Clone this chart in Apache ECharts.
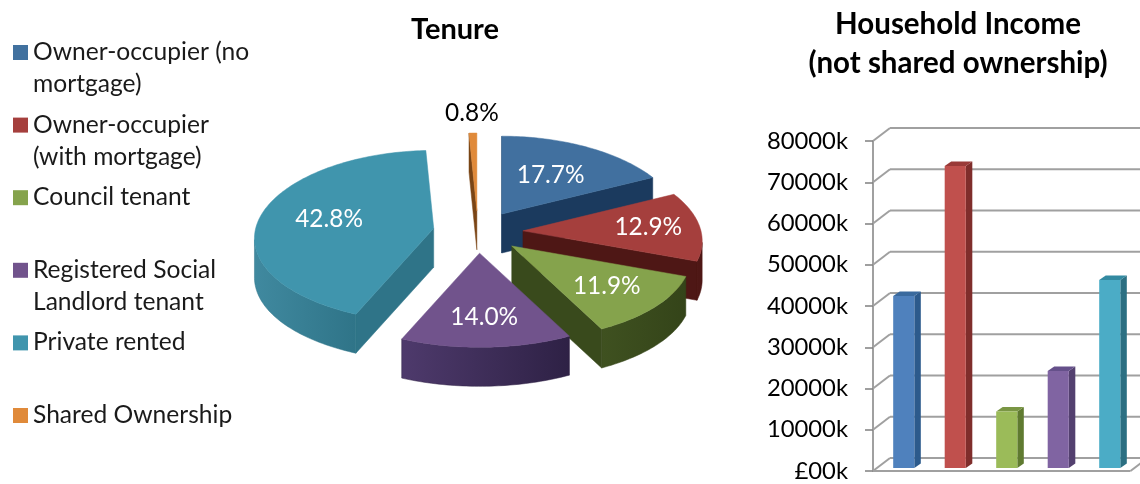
<!DOCTYPE html>
<html><head><meta charset="utf-8">
<style>html,body{margin:0;padding:0;background:#fff}#c{width:1140px;height:484px}</style>
<script src="https://cdn.jsdelivr.net/npm/echarts@6/dist/echarts.min.js"></script>
</head><body><div id="c"></div>
<script>
const categories = ['Owner-occupier (no\nmortgage)','Owner-occupier\n(with mortgage)','Council tenant','Registered Social\nLandlord tenant','Private rented','Shared Ownership'];
const tenureShares = [17.7,12.9,11.9,14.0,42.8,0.8];
const incomeValues = [41700,73200,13700,23500,45600];
const yTicks = [0,10000,20000,30000,40000,50000,60000,70000,80000];

const FONT = 'Lato, "Open Sans", sans-serif';
const legendColors = ['#41719f','#a53f3d','#85a34c','#71538c','#4095ad','#e08a3a'];
const pieTop = ['#41709f','#a53f3d','#85a34c','#71538c','#4095ad','#e08a3a'];
const pieCut = ['#1b3a5e','#4e1715','#394a1c','#3a2a52','#2f7488','#7a4515'];
const pieWallA = ['#1b3a5e','#4e1715','#3f5120','#4e3a6c','#40899f','#7a4515'];
const pieWallB = ['#1b3a5e','#4e1715','#344419','#2e2145','#2f7488','#7a4515'];
const barFront = ['#4f81bd','#c0504d','#9bbb59','#8064a2','#4bacc6'];
const barSide = ['#2c5a8c','#7f2d2b','#5f7a30','#53406f','#2b6f82'];
const barTop = ['#3a6a9e','#9a3a38','#7a9644','#65508a','#338aa1'];

const pie = {cx:478, cy:232, rx:178, ry:86, px:0.12, py:0.095, explode:45, tilt:0.47, depth:39};
const total = tenureShares.reduce((a,b)=>a+b,0);
const labelReach = [0.58,0.71,0.66,0.68,0.61,1.26];
const drawOrder = [5,0,1,2,3,4];

function sliceShape(i){
  let before = 0;
  for(let k=0;k<i;k++) before += tenureShares[k];
  const a0 = before/total*2*Math.PI, a1 = (before+tenureShares[i])/total*2*Math.PI, mid=(a0+a1)/2;
  const ax = pie.cx + pie.explode*Math.sin(mid), ay = pie.cy - pie.explode*pie.tilt*Math.cos(mid);
  const at = (t,r)=>[ax + r*pie.rx*Math.sin(t)*(1-pie.px*Math.cos(t)), ay - r*pie.ry*Math.cos(t)*(1-pie.py*Math.cos(t))];
  const arc = [];
  const n = Math.max(3,Math.ceil((a1-a0)/0.02));
  for(let k=0;k<=n;k++) arc.push(at(a0+(a1-a0)*k/n,1));
  return {apex:[ax,ay],arc,mid,at};
}
const drop = (p)=>[p[0],p[1]+pie.depth];
function renderSlice(params){
  const i = drawOrder[params.dataIndex];
  const s = sliceShape(i);
  const children = [];
  const poly = (pts,fill)=>children.push({type:'polygon',shape:{points:pts},style:{fill,stroke:typeof fill==='string'?fill:pieWallB[i],lineWidth:0.5}});
  const end = s.arc[s.arc.length-1], start = s.arc[0];
  // cut faces are visible when their top edge runs leftwards on screen
  if(start[0] <= s.apex[0]) poly([start,s.apex,drop(s.apex),drop(start)],pieCut[i]);
  if(s.apex[0] < end[0]) poly([end,s.apex,drop(s.apex),drop(end)],pieCut[i]);
  // outer wall: the arc run that travels leftwards on screen
  const vis = [];
  for(let k=0;k<s.arc.length;k++){
    const prev = s.arc[Math.max(0,k-1)], next = s.arc[Math.min(s.arc.length-1,k+1)];
    if(next[0]<prev[0]) vis.push(s.arc[k]);
  }
  if(vis.length>1){
    poly(vis.concat(vis.map(drop).reverse()),{type:'linear',x:0,y:0,x2:1,y2:0,colorStops:[{offset:0,color:pieWallA[i]},{offset:1,color:pieWallB[i]}]});
  }
  children.push({type:'polygon',shape:{points:[s.apex].concat(s.arc)},style:{fill:pieTop[i],stroke:pieTop[i],lineWidth:0.5}});
  const lab = s.at(s.mid,labelReach[i]);
  children.push({type:'text',z2:50,style:{x:lab[0],y:lab[1],text:tenureShares[i].toFixed(1)+'%',fill:labelReach[i]>1?'#000':'#fff',font:'24.4px '+FONT,align:'center',verticalAlign:'middle'}});
  return {type:'group',children};
}

function renderWall(params,api){
  const v = api.value(0);
  const y = api.coord([0,v])[1];
  const cs = params.coordSys, x0 = cs.x, x1 = 1140, dx = 17, dy = 13;
  const ln = (a,b,c,d)=>({type:'line',shape:{x1:a,y1:b,x2:c,y2:d},style:{stroke:'#a0a0a0',lineWidth:2}});
  const kids = [ln(x0,y,x0+dx,y-dy),ln(x0+dx,y-dy,x1,y-dy)];
  if(v===0){
    kids.push(ln(x0,y,cs.x+cs.width,y));
    kids.push(ln(cs.x+cs.width,y,cs.x+cs.width+dx,y-dy));
  }
  return {type:'group',children:kids};
}
function renderBar(params,api){
  const i = api.value(0), v = api.value(1);
  const top = api.coord([i,v]), base = api.coord([i,0]);
  const w = api.size([1,0])[0]*0.41, sx = 5, sy = -3, ox = 6.5, oy = -4.5;
  const l = top[0]-w/2+sx, r = l+w, t = top[1]+sy, b = base[1]+sy;
  return {type:'group',children:[
    {type:'polygon',shape:{points:[[r,t],[r+ox,t+oy],[r+ox,b+oy],[r,b]]},style:{fill:barSide[i]}},
    {type:'polygon',shape:{points:[[l,t],[l+ox,t+oy],[r+ox,t+oy],[r,t]]},style:{fill:barTop[i]}},
    {type:'rect',shape:{x:l,y:t,width:w,height:b-t},style:{fill:barFront[i]}}
  ]};
}

const legendTop = 52, legendStep = 72.6;
const legendGraphics = [];
categories.forEach((name,i)=>{
  const y = legendTop + legendStep*i;
  legendGraphics.push({type:'rect',shape:{x:13,y:y-7,width:15,height:15},style:{fill:legendColors[i]}});
  legendGraphics.push({type:'text',style:{x:33,y:y-16,text:name,fill:'#1a1a1a',font:'24.6px '+FONT,lineHeight:32,verticalAlign:'top',align:'left'}});
});

const chart = echarts.init(document.getElementById('c'),null,{renderer:'canvas'});
chart.setOption({
  animation:false,
  backgroundColor:'#fff',
  title:[
    {text:'Tenure',left:450,top:10,textAlign:'center',textStyle:{fontFamily:FONT,fontWeight:'bold',fontSize:29,color:'#000'}},
    {text:'Household Income\n(not shared ownership)',left:953,top:0,textAlign:'center',textStyle:{fontFamily:FONT,fontWeight:'bold',fontSize:29.5,lineHeight:39,color:'#000'}}
  ],
  grid:{left:873,top:141,width:257.5,height:330,containLabel:false},
  xAxis:{type:'category',data:categories.slice(0,5),axisLabel:{show:false},axisTick:{show:false},axisLine:{show:false},splitLine:{show:false}},
  yAxis:{type:'value',min:0,max:80000,interval:10000,
    axisLine:{show:true,lineStyle:{color:'#a0a0a0',width:2}},
    axisTick:{show:true,length:8,lineStyle:{color:'#808080',width:1.5}},
    splitLine:{show:false},
    axisLabel:{margin:25,color:'#000',fontFamily:FONT,fontSize:23.8,padding:[4,0,0,0],formatter:v=>v===0?'£00k':v+'k'}},
  graphic:legendGraphics,
  series:[
    {type:'custom',name:'Gridlines',coordinateSystem:'cartesian2d',clip:false,silent:true,z:1,data:yTicks.map(v=>[v]),encode:{y:0},renderItem:renderWall},
    {type:'custom',name:'Household income',coordinateSystem:'cartesian2d',clip:false,z:3,data:incomeValues.map((v,i)=>[i,v]),encode:{x:0,y:1},renderItem:renderBar},
    {type:'custom',name:'Tenure',coordinateSystem:'none',z:4,data:drawOrder.map(i=>[tenureShares[i]]),renderItem:renderSlice}
  ]
});
</script></body></html>
